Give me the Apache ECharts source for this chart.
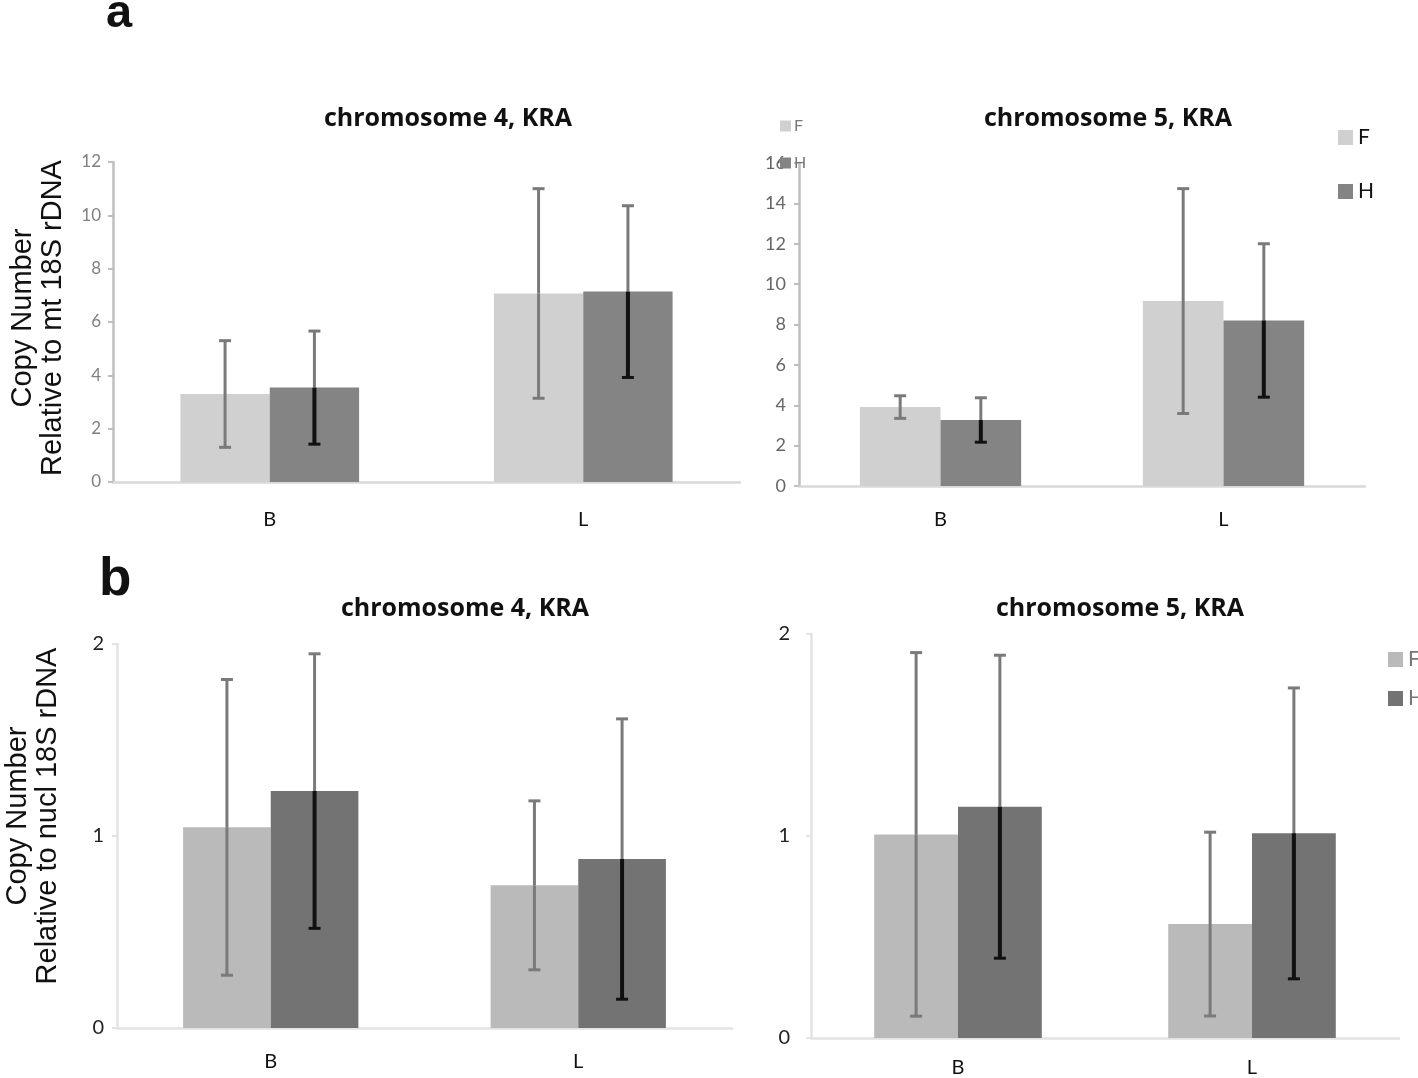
<!DOCTYPE html>
<html>
<head>
<meta charset="utf-8">
<script src="https://cdn.jsdelivr.net/npm/echarts@6/dist/echarts.min.js"></script>
<style>
  html, body { margin: 0; padding: 0; background: #fff; }
  #chart { width: 1418px; height: 1078px; }
</style>
</head>
<body>
<div id="chart"></div>
<script>
// categories + values
const categories = ["B", "L"];

// a: relative to mt 18S rDNA
const a4F = [3.3, 7.07];
const a4FErr = [2.0, 3.93];
const a4H = [3.54, 7.14];
const a4HErr = [2.12, 3.22];
const a5F = [3.91, 9.16];
const a5FErr = [0.56, 5.57];
const a5H = [3.27, 8.2];
const a5HErr = [1.1, 3.8];

// b: relative to nucl 18S rDNA
const b4F = [1.045, 0.743];
const b4FErr = [0.77, 0.44];
const b4H = [1.234, 0.88];
const b4HErr = [0.715, 0.73];
const b5F = [1.008, 0.564];
const b5FErr = [0.9, 0.455];
const b5H = [1.145, 1.013];
const b5HErr = [0.75, 0.72];

const titles = ["chromosome 4, KRA", "chromosome 5, KRA", "chromosome 4, KRA", "chromosome 5, KRA"];

const colA = { F: "#d0d0d0", H: "#848484" };
const colB = { F: "#bababa", H: "#737373" };
const errGray = "#7a7a7a";
const errBlack = "#111111";
const labelFont = "Lato, 'Open Sans', sans-serif";
const titleFont = "'Open Sans', Lato, sans-serif";

var myChart = echarts.init(document.getElementById("chart"));

// error bar drawn on top of a bar, side = -1 (F) or 1 (H)
function errRender(side, lowColor) {
  return function (params, api) {
    var cat = api.value(0);
    var v = api.value(1);
    var e = api.value(2);
    var band = api.size([1, 0])[0];
    var dx = side * band * 0.1425;
    var top = api.coord([cat, v + e]);
    var mid = api.coord([cat, v]);
    var bot = api.coord([cat, v - e]);
    var x = top[0] + dx;
    var cap = 6;
    return {
      type: "group",
      children: [
        { type: "line", shape: { x1: x, y1: top[1], x2: x, y2: mid[1] }, style: { stroke: errGray, lineWidth: 3 } },
        { type: "line", shape: { x1: x, y1: mid[1], x2: x, y2: bot[1] }, style: { stroke: lowColor, lineWidth: lowColor === errGray ? 3 : 4 } },
        { type: "line", shape: { x1: x - cap, y1: top[1], x2: x + cap, y2: top[1] }, style: { stroke: errGray, lineWidth: 3 } },
        { type: "line", shape: { x1: x - cap, y1: bot[1], x2: x + cap, y2: bot[1] }, style: { stroke: lowColor, lineWidth: 3 } },
      ],
    };
  };
}

function errData(vals, errs) {
  return vals.map(function (v, i) {
    return [i, v, errs[i]];
  });
}

// one panel = 2 bar series + 2 error series
function panel(idx, F, FErr, H, HErr, col) {
  return [
    { name: "F", type: "bar", xAxisIndex: idx, yAxisIndex: idx, data: F, barGap: "0%", barCategoryGap: "43%", itemStyle: { color: col.F }, silent: true },
    { name: "H", type: "bar", xAxisIndex: idx, yAxisIndex: idx, data: H, barGap: "0%", barCategoryGap: "43%", itemStyle: { color: col.H }, silent: true },
    { type: "custom", xAxisIndex: idx, yAxisIndex: idx, z: 5, silent: true, renderItem: errRender(-1, errGray), data: errData(F, FErr) },
    { type: "custom", xAxisIndex: idx, yAxisIndex: idx, z: 5, silent: true, renderItem: errRender(1, errBlack), data: errData(H, HErr) },
  ];
}

function catAxis(idx, lineColor, margin) {
  return {
    type: "category",
    gridIndex: idx,
    data: categories,
    axisLine: { lineStyle: { color: lineColor, width: 2.5 } },
    axisTick: { show: false },
    axisLabel: { color: "#111", fontSize: 20, fontFamily: labelFont, margin: margin },
  };
}

function valAxis(idx, max, interval, lineColor, labelColor, fontSize, margin) {
  return {
    type: "value",
    gridIndex: idx,
    min: 0,
    max: max,
    interval: interval,
    axisLine: { show: true, lineStyle: { color: lineColor, width: 2.5 } },
    axisTick: { show: true, length: 5, lineStyle: { color: lineColor, width: 2 } },
    splitLine: { show: false },
    axisLabel: { color: labelColor, fontSize: fontSize, fontFamily: labelFont, margin: margin },
  };
}

function titleItem(text, x, y) {
  return {
    text: text,
    left: x,
    top: y,
    textAlign: "center",
    textStyle: { fontSize: 25, fontWeight: "bold", color: "#111", fontFamily: titleFont },
  };
}

var option = {
  animation: false,
  backgroundColor: "#fff",
  title: [
    titleItem(titles[0], 443, 101),
    titleItem(titles[1], 1103, 101),
    titleItem(titles[2], 460, 591),
    titleItem(titles[3], 1115, 591),
  ],
  legend: [
    {
      // faint duplicated legend near the chr5 axis
      orient: "vertical",
      left: 775,
      top: 113,
      itemWidth: 11,
      itemHeight: 11,
      itemGap: 21,
      icon: "rect",
      data: [
        { name: "F", itemStyle: { color: colA.F } },
        { name: "H", itemStyle: { color: colA.H } },
      ],
      textStyle: { color: "#777", fontSize: 16, fontFamily: labelFont, padding: [0, 0, 0, -2] },
      selectedMode: false,
    },
    {
      orient: "vertical",
      left: 1333,
      top: 122,
      itemWidth: 15,
      itemHeight: 15,
      itemGap: 33,
      icon: "rect",
      data: [
        { name: "F", itemStyle: { color: colA.F } },
        { name: "H", itemStyle: { color: colA.H } },
      ],
      textStyle: { color: "#111", fontSize: 21, fontFamily: labelFont },
      selectedMode: false,
    },
    {
      orient: "vertical",
      left: 1383,
      top: 644,
      itemWidth: 15,
      itemHeight: 15,
      itemGap: 18,
      icon: "rect",
      data: [
        { name: "F", itemStyle: { color: colB.F } },
        { name: "H", itemStyle: { color: colB.H } },
      ],
      textStyle: { color: "#777", fontSize: 21, fontFamily: labelFont },
      selectedMode: false,
    },
  ],
  grid: [
    { left: 113, top: 162, width: 627, height: 320 },
    { left: 799, top: 163, width: 566, height: 323 },
    { left: 117, top: 644, width: 615, height: 384 },
    { left: 811, top: 634, width: 588, height: 406 },
  ],
  xAxis: [
    catAxis(0, "#d9d9d9", 28),
    catAxis(1, "#d9d9d9", 24),
    catAxis(2, "#e3e3e3", 24),
    catAxis(3, "#e3e3e3", 20),
  ],
  yAxis: [
    valAxis(0, 12, 2, "#bfbfbf", "#808080", 17, 12),
    valAxis(1, 16, 2, "#bfbfbf", "#666", 18, 13),
    valAxis(2, 2, 1, "#e3e3e3", "#222", 20, 13),
    valAxis(3, 2, 1, "#e3e3e3", "#222", 20, 21),
  ],
  graphic: [
    { type: "text", left: 106, top: -9, style: { text: "a", font: "bold 47px 'Liberation Sans', Arial", fill: "#111" } },
    { type: "text", left: 99, top: 554, style: { text: "b", font: "bold 53px 'Liberation Sans', Arial", fill: "#111" } },
    {
      type: "text",
      x: 38,
      y: 318,
      rotation: Math.PI / 2,
      style: {
        text: "Copy Number\nRelative to mt 18S rDNA",
        font: "29px 'Liberation Sans', Arial",
        fill: "#111",
        align: "center",
        verticalAlign: "middle",
        lineHeight: 30,
      },
    },
    {
      type: "text",
      x: 33,
      y: 816,
      rotation: Math.PI / 2,
      style: {
        text: "Copy Number\nRelative to nucl 18S rDNA",
        font: "29px 'Liberation Sans', Arial",
        fill: "#111",
        align: "center",
        verticalAlign: "middle",
        lineHeight: 30,
      },
    },
  ],
  series: []
    .concat(panel(0, a4F, a4FErr, a4H, a4HErr, colA))
    .concat(panel(1, a5F, a5FErr, a5H, a5HErr, colA))
    .concat(panel(2, b4F, b4FErr, b4H, b4HErr, colB))
    .concat(panel(3, b5F, b5FErr, b5H, b5HErr, colB)),
};

myChart.setOption(option, true);
window.addEventListener("resize", function () {
  myChart.resize();
});
</script>
</body>
</html>
